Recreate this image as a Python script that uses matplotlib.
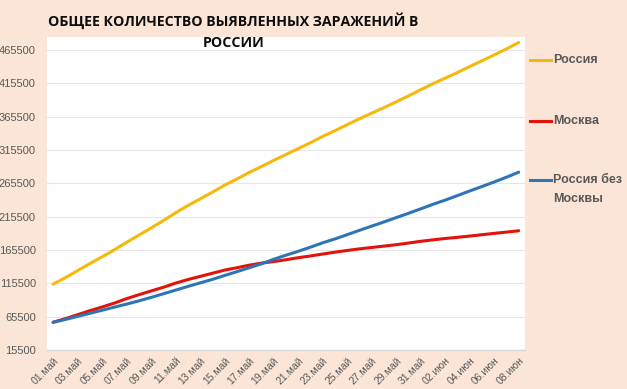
import matplotlib.pyplot as plt
from matplotlib.lines import Line2D

# Dates: 01 May .. 08 Jun
dates = [f"{d:02d}.май" for d in range(1, 32)] + [f"{d:02d}.июн" for d in range(1, 9)]

russia = [114431, 124054, 134687, 145268, 155370, 165929, 177160, 187859, 198676, 209688,
          221344, 232243, 242271, 252245, 262843, 272043, 281752, 290678, 299941, 308705,
          317554, 326448, 335882, 344481, 353427, 362342, 370680, 379051, 387623, 396575,
          405843, 414878, 423186, 431715, 440538, 449256, 458102, 467073, 476658]
moscow = [57300, 62658, 68606, 74601, 80115, 85973, 92676, 98522, 104189, 109740,
          115909, 121301, 126004, 130716, 135464, 138969, 142824, 145852, 148253, 150963,
          153997, 156641, 159520, 162310, 164866, 167297, 169303, 171443, 173497, 176004,
          178590, 180791, 182839, 184561, 186478, 188484, 190522, 192404, 194400]
russia_wo_moscow = [57131, 61396, 66081, 70667, 75255, 79956, 84484, 89337, 94487, 99948,
                    105435, 110942, 116267, 121529, 127379, 133074, 138928, 144826, 151688, 157742,
                    163557, 169807, 176362, 182171, 188561, 195045, 201377, 207608, 214126, 220571,
                    227253, 234087, 240347, 247154, 254060, 260772, 267580, 274669, 282258]

yticks = list(range(15500, 465501, 50000))
series = [("Россия", russia, "#F6B90B"),
          ("Москва", moscow, "#E3120B"),
          ("Россия без\nМосквы", russia_wo_moscow, "#2E75B6")]

bg = "#FBE5D6"
txt = "#595959"

fig = plt.figure(figsize=(6.27, 3.89), dpi=100, facecolor=bg)
ax = fig.add_axes([0.075, 0.10, 0.762, 0.805])
ax.set_facecolor("white")

x = list(range(len(dates)))
for name, vals, col in series:
    ax.plot(x, vals, color=col, lw=2.2, solid_capstyle="round", zorder=3)

ax.set_xlim(-0.5, len(dates) - 0.5)
ax.set_ylim(15500, 485000)
ax.set_yticks(yticks)
ax.set_yticklabels([str(v) for v in yticks], fontsize=8, color=txt, family="Liberation Sans")
ax.set_xticks(x[::2])
ax.set_xticklabels(dates[::2], rotation=45, ha="right", rotation_mode="anchor",
                   fontsize=7.5, color=txt, family="Liberation Sans")
ax.tick_params(axis="both", length=0)
ax.tick_params(axis="y", pad=8)
ax.tick_params(axis="x", pad=4)
ax.grid(axis="y", color="#E6E6E6", lw=0.8, zorder=0)
for s in ["left", "right", "top"]:
    ax.spines[s].set_visible(False)
ax.spines["bottom"].set_color("#D9D9D9")
ax.spines["bottom"].set_linewidth(1.0)

fig.text(0.372, 0.92, "ОБЩЕЕ КОЛИЧЕСТВО ВЫЯВЛЕННЫХ ЗАРАЖЕНИЙ В\nРОССИИ", ha="center", va="center",
         fontsize=10.2, fontweight="bold", family="Open Sans", color="#0D0D0D", linespacing=1.6,
         zorder=5)

# legend drawn at the right
leg_y = [0.846, 0.689, 0.537]
for (name, vals, col), yy in zip(series, leg_y):
    fig.add_artist(Line2D([0.845, 0.879], [yy, yy], color=col, lw=2.2, transform=fig.transFigure))
    if "\n" in name:
        fig.text(0.882, yy + 0.016, name, ha="left", va="top", fontsize=9, fontweight="bold",
                 color=txt, family="Liberation Sans", linespacing=1.8)
    else:
        fig.text(0.882, yy, name, ha="left", va="center", fontsize=9, fontweight="bold",
                 color=txt, family="Liberation Sans")

fig.savefig("out.png", dpi=100, facecolor=bg)
